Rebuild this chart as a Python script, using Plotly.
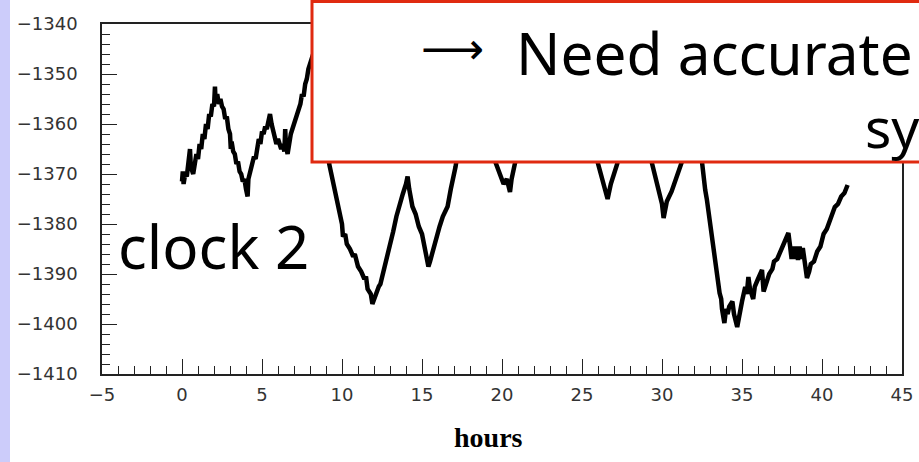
import plotly.graph_objects as go

# ---- data (hours, clock offset) ----
hours = [
    0.0, 0.05, 0.1, 0.2, 0.3, 0.4, 0.5, 0.55, 0.7, 0.8, 0.9, 1.0, 1.1, 1.2, 1.3, 1.4, 1.5, 1.6, 1.7, 1.8,
    1.9, 2.0, 2.06, 2.1, 2.2, 2.3, 2.4, 2.5, 2.6, 2.7, 2.8, 2.9, 3.0, 3.05, 3.1, 3.2, 3.3, 3.4, 3.5, 3.6,
    3.7, 3.8, 3.9, 4.0, 4.1, 4.15, 4.3, 4.4, 4.5, 4.6, 4.7, 4.8, 4.9, 5.0, 5.1, 5.2, 5.3, 5.4, 5.5, 5.6,
    5.7, 5.8, 5.9, 6.0, 6.1, 6.2, 6.3, 6.4, 6.45, 6.5, 6.6, 6.7, 6.8, 6.9, 7.0, 7.1, 7.2, 7.3, 7.4, 7.5,
    7.6, 7.7, 7.8, 7.9, 8.0, 8.3, 8.6, 8.8, 9.0,
    9.2, 9.3, 9.44, 9.6, 9.8, 10.0, 10.06, 10.2, 10.3, 10.5, 10.7, 10.8, 11.0, 11.2, 11.4, 11.5, 11.6, 11.8, 11.9, 12.0,
    12.1, 12.2, 12.3, 12.4, 12.6, 12.8, 13.0, 13.2, 13.4, 13.6, 13.8, 14.0, 14.1, 14.2, 14.3, 14.4, 14.6, 14.8, 15.0, 15.2,
    15.4, 15.5, 15.7, 15.9, 16.1, 16.3, 16.6, 16.8, 17.0, 17.1,
    17.5, 18.0, 18.5, 19.0, 19.4, 19.7, 19.9, 20.1, 20.3, 20.5, 20.6, 20.8,
    21.5, 22.5, 23.5, 24.5, 25.5, 26.0, 26.2, 26.4, 26.6, 26.8, 27.0, 27.2,
    27.8, 28.5, 29.0, 29.4, 29.6, 29.8, 30.0, 30.1, 30.3, 30.6, 30.9, 31.1, 31.25,
    31.6, 32.0, 32.3, 32.5, 32.6, 32.7, 32.8, 33.0, 33.2, 33.4, 33.6, 33.7, 33.75, 33.9, 34.0, 34.1, 34.2, 34.4, 34.5, 34.7,
    34.8, 35.0, 35.2, 35.3, 35.4, 35.5, 35.7, 35.8, 36.0, 36.25, 36.35, 36.5, 36.7, 36.9, 37.0, 37.2, 37.4, 37.6, 37.8, 37.9,
    38.0, 38.1, 38.2, 38.3, 38.4, 38.5, 38.6, 38.7, 38.8, 38.9, 39.06, 39.2, 39.3, 39.5, 39.7, 39.9, 40.1, 40.3, 40.5, 40.7,
    40.8, 41.0, 41.2, 41.4, 41.6,
]
offset = [
    -1371.5, -1369.5, -1372, -1370, -1370.5, -1368, -1365, -1368.5, -1370, -1368, -1366, -1367, -1364, -1365, -1362, -1363, -1360, -1361, -1358, -1358.5,
    -1356, -1356.5, -1352.5, -1355.5, -1354, -1356, -1355, -1356.5, -1357, -1359, -1358.5, -1361, -1362, -1365, -1363.5, -1365.5, -1366, -1368, -1367.5, -1369.5,
    -1370, -1371.5, -1371, -1373, -1374.5, -1371, -1369, -1368, -1366.5, -1367, -1364, -1363, -1364, -1361.5, -1362, -1360.5, -1361, -1359, -1358, -1360,
    -1361.5, -1363, -1364, -1363, -1364.5, -1365, -1364, -1365.5, -1361, -1364.5, -1366, -1363, -1362, -1361, -1360, -1358.5, -1358, -1356.5, -1356, -1354,
    -1354.5, -1352, -1351, -1349, -1348, -1345, -1347, -1355, -1362,
    -1368, -1369.5, -1371.8, -1374, -1377, -1380, -1382.5, -1382, -1384, -1385, -1386.5, -1386, -1388.5, -1389.5, -1391, -1390.5, -1393, -1394, -1396, -1395,
    -1394.5, -1393.5, -1392.5, -1392, -1389.5, -1387, -1384, -1381.5, -1378.5, -1376, -1374, -1372, -1370.5, -1373, -1375, -1376.5, -1378, -1380.5, -1382, -1385.5,
    -1388.5, -1387.5, -1385, -1383, -1380.5, -1378.5, -1376.5, -1373, -1370, -1368.5,
    -1360, -1355, -1358, -1362, -1366, -1368.5, -1370, -1372, -1371, -1373.6, -1371, -1368,
    -1360, -1352, -1350, -1355, -1362, -1368, -1370, -1372.5, -1375, -1372, -1370, -1368,
    -1360, -1358, -1363, -1368, -1371, -1373.5, -1376, -1378.8, -1375.5, -1373.5, -1371, -1369, -1367.5,
    -1360, -1356, -1362, -1368.2, -1370, -1373.2, -1375, -1380, -1385, -1389.5, -1393.8, -1395, -1397, -1399.8, -1397, -1398, -1396.5, -1395.5, -1398, -1400.6,
    -1398.5, -1395.5, -1392.6, -1394, -1390.6, -1393, -1395, -1392.5, -1391, -1389.2, -1393.5, -1392, -1390, -1389, -1387.5, -1387, -1385.5, -1384, -1383, -1381.8,
    -1384.3, -1387, -1384.5, -1387, -1384.5, -1387.2, -1384.5, -1387, -1384.8, -1387, -1390.8, -1389.5, -1388, -1387.5, -1385.5, -1384.5, -1382, -1381, -1379, -1377.5,
    -1376.6, -1376, -1374.5, -1373.8, -1372.2,
]

x_ticks = [-5, 0, 5, 10, 15, 20, 25, 30, 35, 40, 45]
y_ticks = [-1410, -1400, -1390, -1380, -1370, -1360, -1350, -1340]

W, H = 919, 462
L, R, T, B = 102, 17, 24, 88
PW, PH = W - L - R, H - T - B


def px(xp):
    return (xp - L) / PW


def py(yp):
    return (H - B - yp) / PH


fig = go.Figure()
fig.add_trace(go.Scatter(x=hours, y=offset, mode="lines",
                         line=dict(color="black", width=4.5), hoverinfo="skip"))

axis_font = dict(family="DejaVu Sans", size=18, color="#333")
fig.update_xaxes(range=[-5, 45], tickvals=x_ticks, ticks="inside", ticklen=15, tickwidth=1.3,
                 tickcolor="#222", showline=True, linecolor="#222", linewidth=1.5, mirror=True,
                 showgrid=False, zeroline=False, tickfont=axis_font, ticklabelstandoff=4,
                 minor=dict(ticks="inside", ticklen=8, dtick=1, tickcolor="#222", tickwidth=1.3, showgrid=False))
fig.update_yaxes(range=[-1410, -1340], tickvals=y_ticks, ticks="inside", ticklen=15, tickwidth=1.3,
                 tickcolor="#222", showline=True, linecolor="#222", linewidth=1.5, mirror=True,
                 showgrid=False, zeroline=False, tickfont=axis_font, ticklabelstandoff=19,
                 minor=dict(ticks="inside", ticklen=8, dtick=2, tickcolor="#222", tickwidth=1.3, showgrid=False))

shapes = [
    dict(type="rect", xref="paper", yref="paper", x0=px(-5), x1=px(10), y0=py(470), y1=py(-8),
         fillcolor="#CCCCFA", line=dict(width=0), layer="above"),
    dict(type="rect", xref="paper", yref="paper", x0=px(312), x1=px(1000), y0=py(162), y1=py(1.5),
         fillcolor="white", line=dict(color="#E02A10", width=3), layer="above"),
]

annotations = [
    dict(text="⟶", xref="paper", yref="paper", x=px(419), y=py(48), xanchor="left", yanchor="middle",
         showarrow=False, font=dict(family="DejaVu Sans", size=44, color="black")),
    dict(text="Need accurate", xref="paper", yref="paper", x=px(514), y=py(52), xanchor="left",
         yanchor="middle", showarrow=False, font=dict(family="Noto Sans", size=58.5, color="black")),
    dict(text="sy", xref="paper", yref="paper", x=px(863), y=py(127), xanchor="left",
         yanchor="middle", showarrow=False, font=dict(family="Noto Sans", size=55, color="black")),
    dict(text="clock 2", xref="paper", yref="paper", x=px(116), y=py(246), xanchor="left",
         yanchor="middle", showarrow=False, font=dict(family="Noto Sans", size=60, color="black")),
    dict(text="<b>hours</b>", xref="paper", yref="paper", x=px(488), y=py(437), xanchor="center",
         yanchor="middle", showarrow=False, font=dict(family="Liberation Serif", size=28, color="black")),
]

fig.update_layout(width=W, height=H, margin=dict(l=L, r=R, t=T, b=B, autoexpand=False),
                  paper_bgcolor="white", plot_bgcolor="white", showlegend=False,
                  shapes=shapes, annotations=annotations)

fig.write_html("out.html")
